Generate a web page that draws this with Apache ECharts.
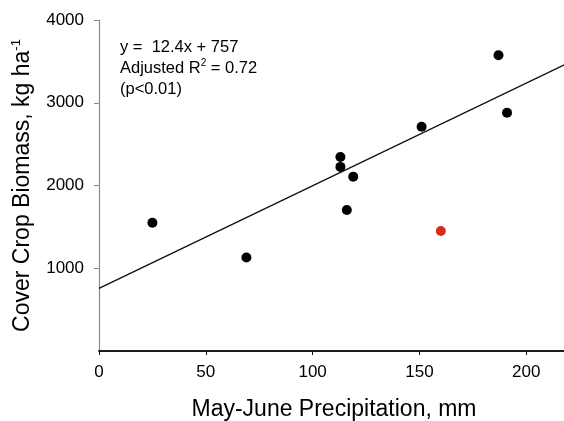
<!DOCTYPE html>
<html>
<head>
<meta charset="utf-8">
<script src="https://cdn.jsdelivr.net/npm/echarts@6/dist/echarts.min.js"></script>
<style>
html,body{margin:0;padding:0;background:#fff;}
#chart{width:564px;height:421px;}
</style>
</head>
<body>
<div id="chart"></div>
<script>
// Data
var precip = [25, 69, 113, 113, 119, 116, 151, 187, 191];
var biomass = [1550, 1130, 2345, 2225, 2105, 1705, 2710, 3575, 2880];
var outlierPrecip = [160];
var outlierBiomass = [1450];
// Regression: y = 12.4x + 757
var slope = 12.4;
var intercept = 757;
var fitX = [0, 220];
var xTicks = [0, 50, 100, 150, 200];
var yTicks = [1000, 2000, 3000, 4000];

var pts = precip.map(function (x, i) { return [x, biomass[i]]; });
var redPts = outlierPrecip.map(function (x, i) { return [x, outlierBiomass[i]]; });
var fitPts = fitX.map(function (x) { return [x, slope * x + intercept]; });

var font = '"Liberation Sans", Arial, sans-serif';
var chart = echarts.init(document.getElementById('chart'), null, {renderer: 'canvas'});
chart.setOption({
  backgroundColor: '#fff',
  animation: false,
  textStyle: {fontFamily: font},
  title: {
    left: 115,
    top: 32,
    text: '{a|y =  12.4x + 757}\n{a|Adjusted R}{s|2}{a| = 0.72}\n{a|(p<0.01)}',
    textStyle: {
      fontFamily: font,
      fontWeight: 'normal',
      color: '#000',
      lineHeight: 21,
      rich: {
        a: {fontSize: 16.5, fontFamily: font, color: '#000', lineHeight: 21},
        s: {fontSize: 10, fontFamily: font, color: '#000', verticalAlign: 'top', lineHeight: 14}
      }
    }
  },
  grid: {left: 99, width: 470, top: 20, bottom: 70, containLabel: false, outerBoundsMode: 'none'},
  xAxis: [{
    type: 'value',
    min: 0, max: 220, interval: 50,
    position: 'bottom',
    splitLine: {show: false},
    axisLine: {show: true, onZero: false, lineStyle: {color: '#111', width: 1.5}},
    axisTick: {show: true, length: 4, lineStyle: {color: '#111'}},
    axisLabel: {
      fontSize: 17, color: '#000', margin: 13, fontFamily: font,
      formatter: function (v) { return xTicks.indexOf(v) >= 0 ? String(v) : ''; }
    },
    name: 'May-June Precipitation, mm',
    nameLocation: 'middle',
    nameGap: 47,
    nameTextStyle: {fontSize: 23, color: '#000', fontFamily: font}
  }, {
    type: 'value',
    min: 0, max: 220,
    position: 'top',
    splitLine: {show: false},
    axisLine: {show: true, lineStyle: {color: '#111', width: 1.5}},
    axisTick: {show: false},
    axisLabel: {show: false}
  }],
  yAxis: {
    type: 'value',
    min: 0, max: 4000, interval: 1000,
    splitLine: {show: false},
    axisLine: {show: true, onZero: false, lineStyle: {color: '#8a8a8a', width: 1.2}},
    axisTick: {show: true, length: 5, lineStyle: {color: '#8a8a8a'}},
    axisLabel: {
      fontSize: 17, color: '#000', margin: 15, fontFamily: font,
      showMinLabel: false,
      formatter: function (v) { return yTicks.indexOf(v) >= 0 ? String(v) : ''; }
    },
    name: '{t|Cover Crop Biomass, kg ha}{s|-1}',
    nameLocation: 'middle',
    nameGap: 63,
    nameTextStyle: {
      fontFamily: font,
      rich: {
        t: {fontSize: 23, color: '#000', fontFamily: font, lineHeight: 26},
        s: {fontSize: 13, color: '#000', fontFamily: font, verticalAlign: 'top', lineHeight: 16}
      }
    }
  },
  series: [{
    type: 'line',
    data: fitPts,
    showSymbol: false,
    symbol: 'none',
    lineStyle: {color: '#111', width: 1.4},
    z: 2
  }, {
    type: 'scatter',
    data: pts,
    symbolSize: 10,
    itemStyle: {color: '#000', opacity: 1},
    z: 3
  }, {
    type: 'scatter',
    data: redPts,
    symbolSize: 10,
    itemStyle: {color: '#d92b1e', opacity: 1},
    z: 3
  }]
});
</script>
</body>
</html>
